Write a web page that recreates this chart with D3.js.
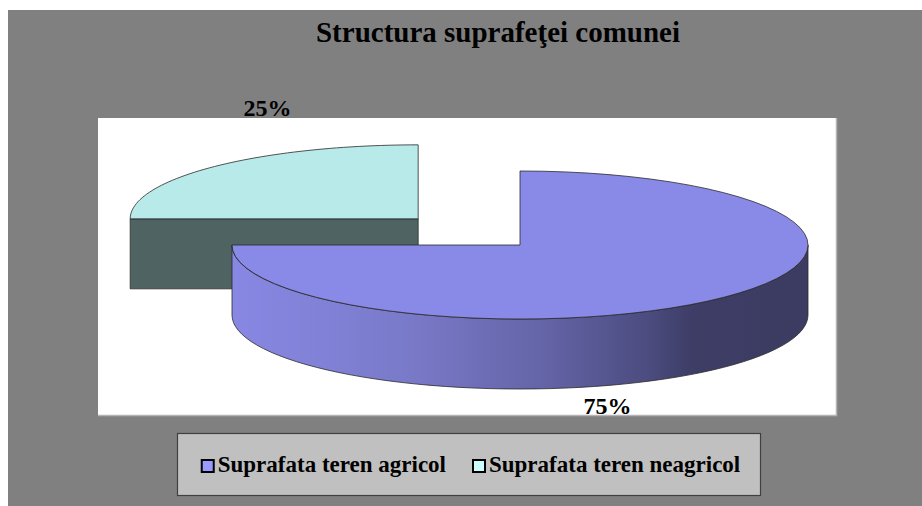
<!DOCTYPE html>
<html>
<head>
  <meta charset="utf-8">
  <title>Structura suprafetei comunei</title>
  <script src="https://d3js.org/d3.v7.min.js"></script>
  <style>
    body { margin: 0; background: #fff; }
    svg { display: block; }
    text { font-family: "Liberation Serif", "Times New Roman", serif; font-weight: bold; fill: #000; }
  </style>
</head>
<body>
  <svg></svg>
  <script>
    // Chart data
    const categories = ["Suprafata teren agricol", "Suprafata teren neagricol"];
    const values = [75, 25];
    const percentLabels = ["75%", "25%"];
    const topColors = ["#8989e8", "#b8eaea"];
    const legendColors = ["#9999ff", "#ccffff"];
    const exploded = [0, 0.5];
    const title = "Structura suprafeţei comunei";

    const width = 922, height = 506;
    const svg = d3.select("svg").attr("width", width).attr("height", height);

    // Gray chart area and white plot area
    svg.append("rect").attr("x", 8).attr("y", 10).attr("width", width - 8).attr("height", height - 10).attr("fill", "#808080");
    svg.append("rect").attr("x", 98).attr("y", 118).attr("width", 738).attr("height", 297).attr("fill", "#fff");
    svg.append("path").attr("d", "M836.5,118V415.5H98").attr("fill", "none").attr("stroke", "#b4b4b4").attr("stroke-width", 1.5);

    svg.append("text").attr("x", 498).attr("y", 42).attr("text-anchor", "middle")
      .style("font-size", "29px").text(title);

    // Pie geometry
    const cx = 520, cy = 245, rx = 288, ry = 74, depth = 70;
    const defs = svg.append("defs");
    const grad = defs.append("linearGradient").attr("id", "sideBlue")
      .attr("gradientUnits", "userSpaceOnUse")
      .attr("x1", cx - rx).attr("x2", cx + rx).attr("y1", 0).attr("y2", 0);
    [[0, "#8888e4"], [0.3, "#7a7aca"], [0.55, "#6363a6"], [0.72, "#4c4c80"], [0.8, "#3d3d66"], [1, "#3c3c62"]]
      .forEach(s => grad.append("stop").attr("offset", s[0]).attr("stop-color", s[1]));
    const sideFill = ["url(#sideBlue)", "#506363"];

    const pie = d3.pie().sort(null).value(d => d);
    const arcs = pie(values).map((a, i) => {
      const mid = (a.startAngle + a.endAngle) / 2;
      return Object.assign(a, {
        i, mid,
        ox: cx + Math.sin(mid) * rx * exploded[i],
        oy: cy - Math.cos(mid) * ry * exploded[i]
      });
    });

    const pt = (a, t, dy) => [a.ox + rx * Math.sin(t), a.oy - ry * Math.cos(t) + (dy || 0)];
    const line = d3.line();
    const arcPts = (a, t0, t1, dy) => d3.range(0, 61).map(k => pt(a, t0 + (t1 - t0) * k / 60, dy));

    const stroke = "#2a2a2a";
    const g = svg.append("g");

    // back slices first
    arcs.slice().sort((p, q) => p.oy - q.oy).forEach(a => {
      // outer side, front half only
      const t0 = Math.max(a.startAngle, Math.PI / 2), t1 = Math.min(a.endAngle, 3 * Math.PI / 2);
      if (t1 > t0) {
        const pts = arcPts(a, t0, t1, 0).concat(arcPts(a, t1, t0, depth));
        g.append("path").attr("d", line(pts) + "Z").attr("fill", sideFill[a.i])
          .attr("stroke", stroke).attr("stroke-width", 0.8);
      }
      // radial cut faces facing the viewer
      const faces = [];
      if (Math.sin(a.startAngle) < -1e-6) faces.push(a.startAngle);
      if (Math.sin(a.endAngle) > 1e-6) faces.push(a.endAngle);
      faces.forEach(t => {
        const p = pt(a, t, 0), q = pt(a, t, depth);
        const pts = [[a.ox, a.oy], p, q, [a.ox, a.oy + depth]];
        g.append("path").attr("d", line(pts) + "Z").attr("fill", sideFill[a.i])
          .attr("stroke", stroke).attr("stroke-width", 0.8);
      });
      // top face
      const top = [[a.ox, a.oy]].concat(arcPts(a, a.startAngle, a.endAngle, 0));
      g.append("path").attr("d", line(top) + "Z").attr("fill", topColors[a.i])
        .attr("stroke", stroke).attr("stroke-width", 0.8);
    });

    // percentage labels (pushed further out for exploded slices)
    arcs.forEach(a => {
      const front = Math.cos(a.mid) < 0;
      const x = a.ox + Math.sin(a.mid) * rx * (0.43 + exploded[a.i] * 0.62);
      const y = front ? a.oy + ry + depth + 25 : a.oy - ry - 29;
      svg.append("text").attr("x", x).attr("y", y).attr("text-anchor", "middle")
        .style("font-size", "24px").text(percentLabels[a.i]);
    });

    // legend
    const lx = 177, ly = 433, lw = 583, lh = 62;
    svg.append("rect").attr("x", lx + 0.5).attr("y", ly + 0.5).attr("width", lw).attr("height", lh)
      .attr("fill", "#c0c0c0").attr("stroke", "#404040").attr("stroke-width", 1.2);
    const lg = svg.append("g");
    const box = 12, pad = 5, spacing = 26;
    let cur = 0;
    categories.forEach((c, i) => {
      const item = lg.append("g").attr("transform", `translate(${cur},0)`);
      item.append("rect").attr("x", 1).attr("y", -12).attr("width", box).attr("height", box)
        .attr("fill", legendColors[i]).attr("stroke", "#000").attr("stroke-width", 2);
      const t = item.append("text").attr("x", box + pad).attr("y", 0).style("font-size", "23px").text(c);
      cur += box + pad + t.node().getComputedTextLength() + spacing;
    });
    const total = cur - spacing;
    lg.attr("transform", `translate(${lx + lw / 2 - total / 2 + 2},${ly + 39})`);
  </script>
</body>
</html>
